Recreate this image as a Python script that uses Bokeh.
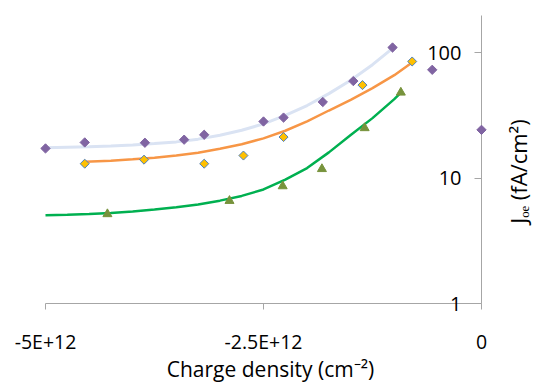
from bokeh.plotting import figure
from bokeh.models import Range1d, FixedTicker
from bokeh.core.properties import value
from bokeh.embed import file_html
from bokeh.resources import INLINE
import math

# ---------------- data (charge density in cm^-2, J_oe in fA/cm^2) ----------------
# measured points
q_purple = [-5.00e12, -4.55e12, -3.86e12, -3.41e12, -3.18e12, -2.50e12, -2.27e12,
            -1.82e12, -1.47e12, -1.02e12, -0.565e12, 0.0]
j_purple = [17.2, 19.2, 19.1, 20.2, 22.1, 28.2, 30.3, 40.3, 59.2, 109.6, 72.8, 24.2]

q_gold = [-4.55e12, -3.87e12, -3.18e12, -2.73e12, -2.27e12, -1.365e12, -0.795e12]
j_gold = [13.0, 14.0, 13.0, 15.1, 21.2, 55.0, 84.8]

q_tri = [-4.29e12, -2.89e12, -2.28e12, -1.83e12, -1.34e12, -0.925e12]
j_tri = [5.16, 6.58, 8.61, 11.8, 25.0, 48.0]

# model curves
q_blue_fit = [-5.0e12, -4.75e12, -4.5e12, -4.25e12, -4.0e12, -3.75e12, -3.5e12, -3.25e12,
              -3.0e12, -2.75e12, -2.5e12, -2.25e12, -2.0e12, -1.75e12, -1.5e12, -1.25e12, -1.02e12]
j_blue_fit = [17.45, 17.6, 17.75, 18.0, 18.3, 18.8, 19.4, 20.4,
              21.9, 24.0, 27.0, 31.5, 37.8, 47.0, 60.0, 80.0, 108.0]

q_orange_fit = [-4.55e12, -4.25e12, -4.0e12, -3.75e12, -3.5e12, -3.25e12, -3.0e12, -2.75e12,
                -2.5e12, -2.25e12, -2.0e12, -1.75e12, -1.5e12, -1.25e12, -1.0e12, -0.8e12]
j_orange_fit = [13.5, 13.75, 14.1, 14.5, 15.1, 15.9, 17.1, 18.6,
                20.7, 23.8, 28.3, 34.5, 42.0, 52.0, 66.0, 83.0]

q_green_fit = [-5.0e12, -4.75e12, -4.5e12, -4.25e12, -4.0e12, -3.75e12, -3.5e12, -3.25e12,
               -3.0e12, -2.75e12, -2.5e12, -2.25e12, -2.0e12, -1.75e12, -1.5e12, -1.25e12,
               -1.0e12, -0.93e12]
j_green_fit = [5.05, 5.1, 5.17, 5.27, 5.4, 5.6, 5.85, 6.15,
               6.6, 7.2, 8.1, 9.7, 12.0, 16.0, 22.0, 30.0,
               42.5, 47.5]

x_ticks = [-5.0e12, -2.5e12, 0.0]
x_tick_labels = ["-5E+12", "-2.5E+12", "0"]
y_ticks = [1, 10, 100]
y_tick_labels = ["1", "10", "100"]

x_title = "Charge density (cm\u207b\u00b2)"
y_title = "J\u2092\u2091 (fA/cm\u00b2)"

# ---------------- layout ----------------
W, H = 536, 383
PX_PER_UNIT = 87.2 / 1e12      # pixels per cm^-2
PX_PER_DEC = 125.5             # pixels per decade
X0_PX, Y1_PX = 481, 303        # canvas position of x=0 and y=1

x_start = (0 - X0_PX) / PX_PER_UNIT
x_end = (W - X0_PX) / PX_PER_UNIT
y_top = 10 ** ((Y1_PX - 0) / PX_PER_DEC)
y_bot = 10 ** ((Y1_PX - H) / PX_PER_DEC)


def x_at(px):
    return (px - X0_PX) / PX_PER_UNIT


def y_at(py):
    return 10 ** ((Y1_PX - py) / PX_PER_DEC)


FONT = "Open Sans"
AXIS_GRAY = "#A6A6A6"

p = figure(width=W, height=H, x_range=Range1d(x_start, x_end),
           y_range=Range1d(y_bot, y_top), y_axis_type="log",
           output_backend="svg", toolbar_location=None, min_border=0)
p.outline_line_color = None
p.xgrid.visible = False
p.ygrid.visible = False
p.background_fill_color = "white"

# x axis, crossing at y = 1
xa = p.xaxis[0]
xa.fixed_location = 1
xa.bounds = (-5.0e12, 0.0)
xa.ticker = FixedTicker(ticks=x_ticks)
xa.major_label_overrides = {t: l for t, l in zip(x_ticks, x_tick_labels)}
xa.axis_line_color = AXIS_GRAY
xa.major_tick_line_color = AXIS_GRAY
xa.major_tick_out = 6
xa.major_tick_in = 0
xa.minor_tick_line_color = None
xa.major_label_text_font = FONT
xa.major_label_text_font_size = "19.5px"
xa.major_label_text_color = "black"
xa.major_label_standoff = 18
xa.level = "underlay"

# y axis, crossing at x = 0
ya = p.yaxis[0]
ya.fixed_location = 0
ya.bounds = (1, 198)
ya.ticker = FixedTicker(ticks=y_ticks)
ya.major_label_overrides = {t: l for t, l in zip(y_ticks, y_tick_labels)}
ya.axis_line_color = AXIS_GRAY
ya.major_tick_line_color = AXIS_GRAY
ya.major_tick_out = 7
ya.major_tick_in = 0
ya.minor_tick_line_color = None
ya.major_label_text_font = FONT
ya.major_label_text_font_size = "20px"
ya.major_label_text_color = "black"
ya.major_label_standoff = 13
ya.level = "underlay"

# fitted curves
p.line(q_blue_fit, j_blue_fit, line_color="#DAE3F3", line_width=3)
p.line(q_orange_fit, j_orange_fit, line_color="#F79646", line_width=2.5)
p.line(q_green_fit, j_green_fit, line_color="#00B050", line_width=2.5)

# measured points
p.scatter(q_purple, j_purple, marker="square", angle=math.pi / 4, size=6.6,
          fill_color="#8064A2", line_color="#8064A2", line_width=1)
p.scatter(q_gold, j_gold, marker="square", angle=math.pi / 4, size=6.4,
          fill_color="#FFC000", line_color="#4F81BD", line_width=1)
p.scatter(q_tri, j_tri, marker="triangle", size=9,
          fill_color="#77933C", line_color="#77933C", line_width=1)

# x title below the axis
p.text(x=[x_at(270)], y=[y_at(368)], text=[x_title],
       text_align="center", text_baseline="middle",
       text_font=value(FONT), text_font_size="21px", text_color="black")

# y title on the right side, reading bottom to top
p.text(x=[x_at(517)], y=[y_at(171)], text=[y_title], angle=math.pi / 2,
       text_align="center", text_baseline="middle",
       text_font=value(FONT), text_font_size="22px", text_color="black")

open("out.html", "w").write(file_html(p, INLINE))
